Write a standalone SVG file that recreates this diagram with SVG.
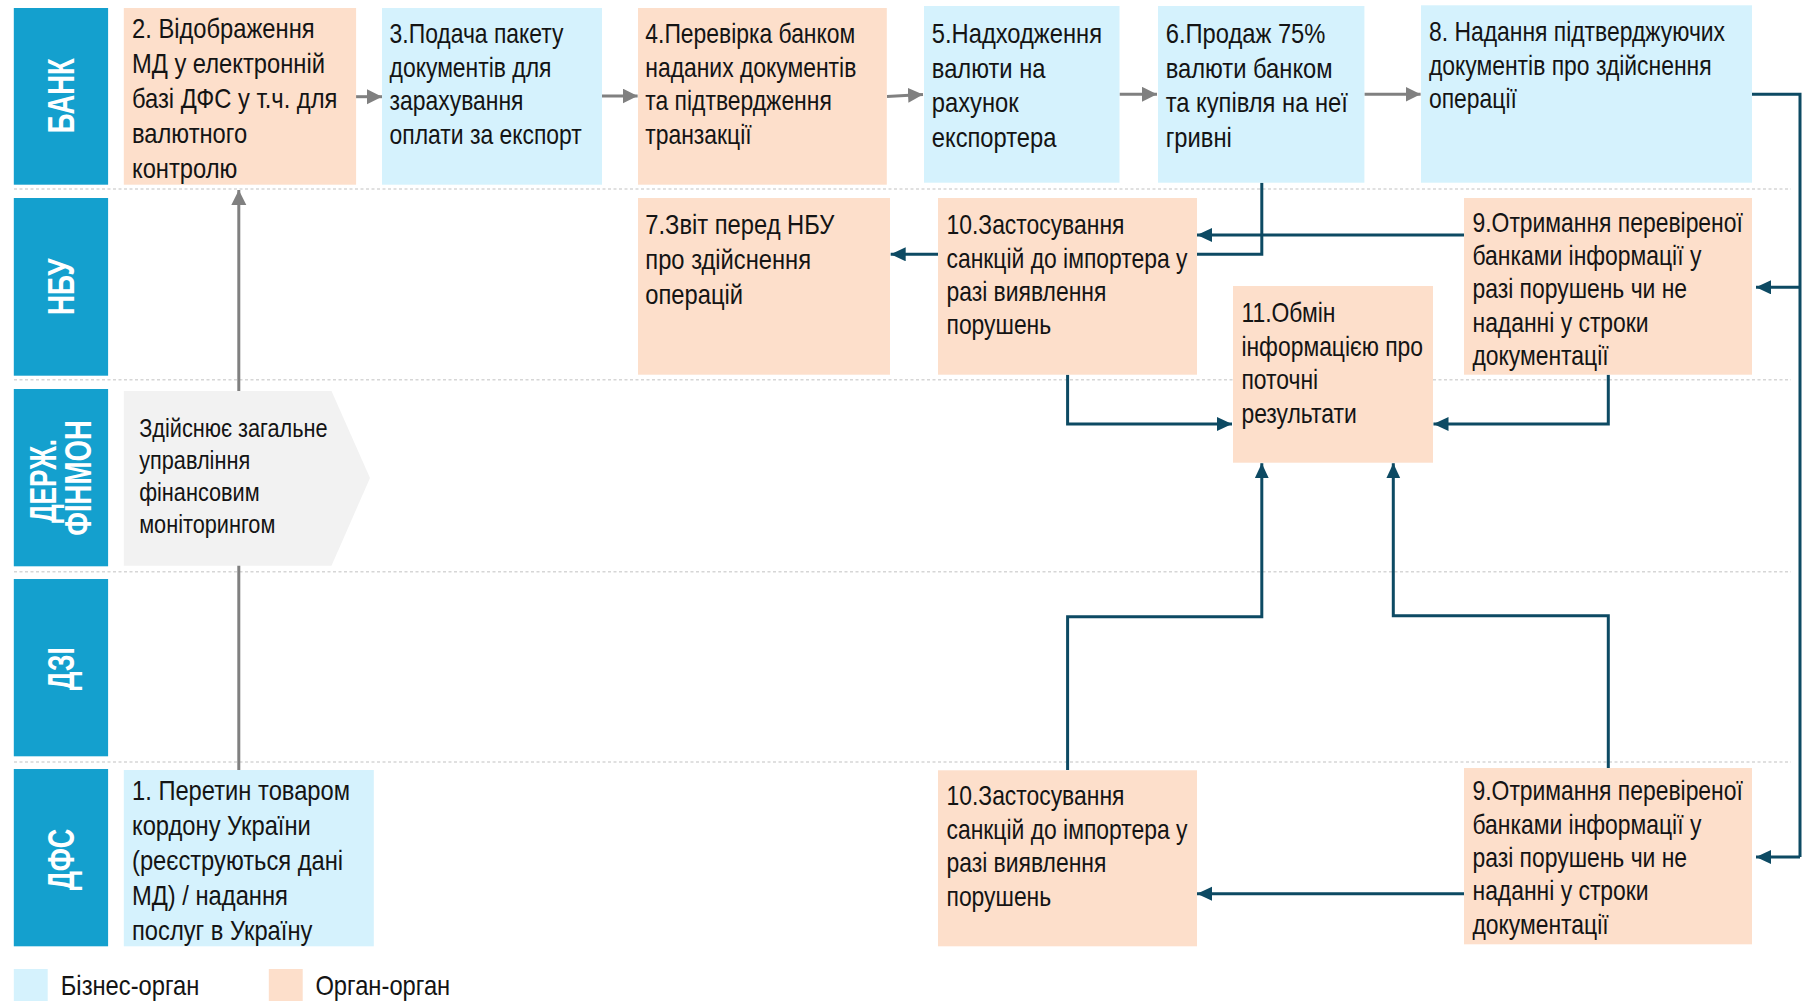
<svg xmlns="http://www.w3.org/2000/svg" width="1809" height="1001" viewBox="0 0 1809 1001">
<defs>
<style>
.lane{fill:#14A0CE}
.ln{font-family:"Liberation Sans",Arial,sans-serif;font-weight:bold;fill:#fff;text-anchor:middle}
.pe{fill:#FDDFCB}
.bl{fill:#D5F2FD}
.pg{fill:#F2F2F2}
.t{font-family:"Liberation Sans",Arial,sans-serif;fill:#141414}
.f28{font-size:28px}
.f27{font-size:27px}
.f26{font-size:25.6px}
.dash{stroke:#D6D6D6;stroke-width:1.5;stroke-dasharray:3 2.5;fill:none}
.ga{stroke:#808080;stroke-width:3;fill:none;marker-end:url(#mg)}
.da{stroke:#0D4A63;stroke-width:3;fill:none}
.dm{marker-end:url(#md)}
</style>
<marker id="mg" markerUnits="userSpaceOnUse" markerWidth="16" markerHeight="16" refX="15" refY="7.5" orient="auto"><path d="M0,0 L15,7.5 L0,15 z" fill="#808080"/></marker>
<marker id="md" markerUnits="userSpaceOnUse" markerWidth="16" markerHeight="16" refX="15" refY="7" orient="auto"><path d="M0,0 L15,7 L0,14 z" fill="#0D4A63"/></marker>
</defs>
<rect width="1809" height="1001" fill="#fff"/>
<g id="lanes">
<line class="dash" x1="14" y1="189" x2="1791" y2="189"/>
<line class="dash" x1="14" y1="379.7" x2="1791" y2="379.7"/>
<line class="dash" x1="14" y1="571.7" x2="1791" y2="571.7"/>
<line class="dash" x1="14" y1="762" x2="1791" y2="762"/>
<g id="lane-bank"><rect class="lane" x="13.8" y="8" width="94.3" height="176.7"/><text class="ln" font-size="37" transform="translate(73.5,95.7) rotate(-90)" textLength="75" lengthAdjust="spacingAndGlyphs">БАНК</text></g>
<g id="lane-nbu"><rect class="lane" x="13.8" y="198" width="94.3" height="177.7"/><text class="ln" font-size="37" transform="translate(73.5,286.7) rotate(-90)" textLength="56.7" lengthAdjust="spacingAndGlyphs">НБУ</text></g>
<g id="lane-finmon"><rect class="lane" x="13.8" y="389" width="94.3" height="177.3"/><text class="ln" font-size="36" transform="translate(55.5,481) rotate(-90)" textLength="84" lengthAdjust="spacingAndGlyphs">ДЕРЖ.</text><text class="ln" font-size="36" transform="translate(91,477.8) rotate(-90)" textLength="115.7" lengthAdjust="spacingAndGlyphs">ФІНМОН</text></g>
<g id="lane-dzi"><rect class="lane" x="13.8" y="579" width="94.3" height="177.3"/><text class="ln" font-size="37" transform="translate(73.5,668.7) rotate(-90)" textLength="43" lengthAdjust="spacingAndGlyphs">ДЗІ</text></g>
<g id="lane-dfs"><rect class="lane" x="13.8" y="769" width="94.3" height="177.3"/><text class="ln" font-size="37" transform="translate(73.5,859.5) rotate(-90)" textLength="61.6" lengthAdjust="spacingAndGlyphs">ДФС</text></g>
</g>
<g id="connectors">
<path class="ga" d="M238.8,770 V190"/>
<path class="ga" d="M356,96.7 H382"/>
<path class="ga" d="M602,96 H637.6"/>
<path class="ga" d="M887,96.5 L923,94.5"/>
<path class="ga" d="M1119.5,94.3 H1157"/>
<path class="ga" d="M1364.4,94.3 H1420.6"/>
<path class="da" d="M1752,94.3 H1800 V857"/>
<path class="da dm" d="M1800,857 H1756"/>
<path class="da dm" d="M1800,287.3 H1756"/>
<path class="da dm" d="M1464,235 H1197"/>
<path class="da" d="M1261.8,182.7 V254.3 H1197"/>
<path class="da dm" d="M938,254.3 H890.7"/>
<path class="da dm" d="M1067.6,374.7 V424 H1232"/>
<path class="da dm" d="M1608.3,374.7 V424 H1433.5"/>
<path class="da dm" d="M1067.6,770 V616.7 H1261.8 V463.3"/>
<path class="da dm" d="M1608.3,768 V615.7 H1393.3 V463.3"/>
<path class="da dm" d="M1464,893.7 H1197"/>
</g>
<g id="n2"><rect class="pe" x="123.8" y="8" width="232.3" height="176.7"/><text class="t f28" transform="translate(132,0) scale(0.848,1)"><tspan x="0" y="38.3">2. Відображення</tspan><tspan x="0" y="73.3">МД у електронній</tspan><tspan x="0" y="108.3">базі ДФС у т.ч. для</tspan><tspan x="0" y="143.3">валютного</tspan><tspan x="0" y="178.3">контролю</tspan></text></g>
<g id="n3"><rect class="bl" x="382" y="8" width="220" height="176.7"/><text class="t f27" transform="translate(389.6,0) scale(0.848,1)"><tspan x="0" y="43.3">3.Подача пакету</tspan><tspan x="0" y="77">документів для</tspan><tspan x="0" y="110.5">зарахування</tspan><tspan x="0" y="144">оплати за експорт</tspan></text></g>
<g id="n4"><rect class="pe" x="638" y="8" width="248.8" height="176.7"/><text class="t f27" transform="translate(645.3,0) scale(0.848,1)"><tspan x="0" y="43.3">4.Перевірка банком</tspan><tspan x="0" y="77">наданих документів</tspan><tspan x="0" y="110.5">та підтвердження</tspan><tspan x="0" y="144">транзакції</tspan></text></g>
<g id="n5"><rect class="bl" x="924" y="6" width="195.5" height="176.7"/><text class="t f28" transform="translate(931.8,0) scale(0.848,1)"><tspan x="0" y="43">5.Надходження</tspan><tspan x="0" y="77.7">валюти на</tspan><tspan x="0" y="112.4">рахунок</tspan><tspan x="0" y="147">експортера</tspan></text></g>
<g id="n6"><rect class="bl" x="1158" y="6" width="206.4" height="176.7"/><text class="t f28" transform="translate(1165.7,0) scale(0.848,1)"><tspan x="0" y="43">6.Продаж 75%</tspan><tspan x="0" y="77.7">валюти банком</tspan><tspan x="0" y="112.4">та купівля на неї</tspan><tspan x="0" y="147">гривні</tspan></text></g>
<g id="n8"><rect class="bl" x="1421" y="5.3" width="331" height="177.4"/><text class="t f27" transform="translate(1429,0) scale(0.848,1)"><tspan x="0" y="41.5">8. Надання підтверджуючих</tspan><tspan x="0" y="74.7">документів про здійснення</tspan><tspan x="0" y="108">операції</tspan></text></g>
<g id="n7"><rect class="pe" x="638" y="198" width="252" height="176.7"/><text class="t f28" transform="translate(645.3,0) scale(0.848,1)"><tspan x="0" y="234.3">7.Звіт перед НБУ</tspan><tspan x="0" y="269.3">про здійснення</tspan><tspan x="0" y="304.3">операцій</tspan></text></g>
<g id="n10a"><rect class="pe" x="938" y="198" width="259" height="176.7"/><text class="t f27" transform="translate(946.5,0) scale(0.848,1)"><tspan x="0" y="234.3">10.Застосування</tspan><tspan x="0" y="267.7">санкцій до імпортера у</tspan><tspan x="0" y="301">разі виявлення</tspan><tspan x="0" y="334.4">порушень</tspan></text></g>
<g id="n9a"><rect class="pe" x="1464" y="198" width="288" height="176.7"/><text class="t f27" transform="translate(1472.5,0) scale(0.848,1)"><tspan x="0" y="231.7">9.Отримання перевіреної</tspan><tspan x="0" y="265">банками інформації у</tspan><tspan x="0" y="298.5">разі порушень чи не</tspan><tspan x="0" y="332">наданні у строки</tspan><tspan x="0" y="365.5">документації</tspan></text></g>
<g id="n11"><rect class="pe" x="1233" y="286" width="200" height="176.7"/><text class="t f27" transform="translate(1241.4,0) scale(0.848,1)"><tspan x="0" y="322.3">11.Обмін</tspan><tspan x="0" y="355.8">інформацією про</tspan><tspan x="0" y="389.3">поточні</tspan><tspan x="0" y="422.8">результати</tspan></text></g>
<g id="finmon"><polygon class="pg" points="123.8,391 331.5,391 370,478 331.5,565.7 123.8,565.7"/><text class="t f26" transform="translate(139.2,0) scale(0.848,1)"><tspan x="0" y="437.3">Здійснює загальне</tspan><tspan x="0" y="469.3">управління</tspan><tspan x="0" y="501.3">фінансовим</tspan><tspan x="0" y="533.3">моніторингом</tspan></text></g>
<g id="n1"><rect class="bl" x="123.8" y="770" width="250" height="176.3"/><text class="t f28" transform="translate(132,0) scale(0.848,1)"><tspan x="0" y="799.7">1. Перетин товаром</tspan><tspan x="0" y="834.7">кордону України</tspan><tspan x="0" y="869.7">(реєструються дані</tspan><tspan x="0" y="904.7">МД) / надання</tspan><tspan x="0" y="939.7">послуг в Україну</tspan></text></g>
<g id="n10b"><rect class="pe" x="938" y="770.3" width="259" height="176"/><text class="t f27" transform="translate(946.5,0) scale(0.848,1)"><tspan x="0" y="805.3">10.Застосування</tspan><tspan x="0" y="838.8">санкцій до імпортера у</tspan><tspan x="0" y="872.3">разі виявлення</tspan><tspan x="0" y="905.8">порушень</tspan></text></g>
<g id="n9b"><rect class="pe" x="1464" y="768" width="288" height="176.3"/><text class="t f27" transform="translate(1472.5,0) scale(0.848,1)"><tspan x="0" y="800.3">9.Отримання перевіреної</tspan><tspan x="0" y="833.7">банками інформації у</tspan><tspan x="0" y="867">разі порушень чи не</tspan><tspan x="0" y="900.4">наданні у строки</tspan><tspan x="0" y="933.7">документації</tspan></text></g>
<g id="legend">
<rect class="bl" x="13.8" y="969" width="33.9" height="32"/>
<text class="t f28" transform="translate(60.8,0) scale(0.848,1)"><tspan x="0" y="995.3">Бізнес-орган</tspan></text>
<rect class="pe" x="268.8" y="969" width="33.9" height="32"/>
<text class="t f28" transform="translate(315.4,0) scale(0.848,1)"><tspan x="0" y="995.3">Орган-орган</tspan></text>
</g>
</svg>
